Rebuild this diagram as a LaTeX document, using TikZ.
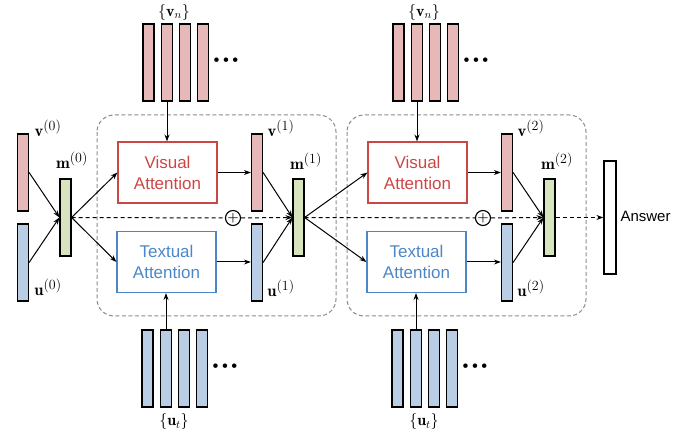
\RequirePackage{fix-cm}
\documentclass[tikz,border=0pt]{standalone}
\usepackage{fontspec}
\setsansfont{Liberation Sans}
\usetikzlibrary{arrows.meta}
\definecolor{vispink}{RGB}{230,184,183}
\definecolor{txtblue}{RGB}{185,205,228}
\definecolor{memgreen}{RGB}{215,228,189}
\definecolor{visred}{RGB}{205,70,70}
\definecolor{txtline}{RGB}{75,135,200}
\definecolor{grpgray}{RGB}{140,140,140}
\newcommand{\hoplabel}[2]{$\mathbf{#1}^{\mbox{\fontsize{14}{14}\selectfont(#2)}}$}

\begin{document}
\begin{tikzpicture}[x=1pt, y=-1pt,
    bar/.style={draw, line width=1.2pt, minimum width=11pt, minimum height=77pt, inner sep=0pt},
    vbar/.style={bar, fill=vispink},
    ubar/.style={bar, fill=txtblue},
    mbar/.style={bar, fill=memgreen},
    attn/.style={draw, line width=1.1pt, minimum width=99pt, minimum height=61pt, align=center,
        font=\fontsize{17}{21}\selectfont\sffamily},
    lbl/.style={font=\fontsize{16.5}{18}\selectfont},
    setlbl/.style={font=\fontsize{16}{18}\selectfont},
    dotsrow/.style={font=\fontsize{20}{20}\selectfont},
    arr/.style={-{Stealth[length=7pt,width=5pt]}, line width=1pt},
    flow/.style={arr, dash pattern=on 4pt off 3pt},
    group/.style={draw=grpgray, dash pattern=on 4pt off 2.5pt, line width=1pt, rounded corners=17pt},
    sumnode/.style={circle, draw, line width=1.1pt, fill=white, minimum size=15pt, inner sep=0pt,
        font=\fontsize{13}{13}\selectfont\bfseries}]
    \useasboundingbox (0,0) rectangle (689,438);

    % Hop groups
    \draw[group] (97,115) rectangle (336,316);
    \draw[group] (347,115) rectangle (586,316);

    % Initial memory
    \node[vbar] (v0) at (23,172.5) {};
    \node[ubar] (u0) at (23,262.5) {};
    \node[mbar] (m0) at (65.5,217.5) {};
    \node[lbl] (v0l) at (48,128) {\hoplabel{v}{0}};
    \node[lbl] (u0l) at (48,287) {\hoplabel{u}{0}};
    \node[lbl] (m0l) at (72,160) {\hoplabel{m}{0}};
    \draw[arr] (v0.east) -- (m0.west);
    \draw[arr] (u0.east) -- (m0.west);

    % Hop 1: image regions and words
    \node[vbar] (vn11) at (148.5,62.5) {};
    \node[vbar] (vn12) at (167,62.5) {};
    \node[vbar] (vn13) at (185,62.5) {};
    \node[vbar] (vn14) at (203,62.5) {};
    \node[dotsrow] (vd1) at (226,62) {\textbullet\kern-5pt\textbullet\kern-5pt\textbullet};
    \node[setlbl] (vn1l) at (174,12.5) {$\{\mathbf{v}_n\}$};
    \node[ubar] (ut11) at (147.5,368.5) {};
    \node[ubar] (ut12) at (166,368.5) {};
    \node[ubar] (ut13) at (184,368.5) {};
    \node[ubar] (ut14) at (202,368.5) {};
    \node[dotsrow] (ud1) at (225,368) {\textbullet\kern-5pt\textbullet\kern-5pt\textbullet};
    \node[setlbl] (ut1l) at (174,422) {$\{\mathbf{u}_t\}$};

    % Hop 1: attention and new memory
    \node[attn, draw=visred, text=visred] (vis1) at (167.5,172.5) {Visual\\Attention};
    \node[attn, draw=txtline, text=txtline] (txt1) at (166.5,262) {Textual\\Attention};
    \node[vbar] (v1) at (257,172.5) {};
    \node[ubar] (u1) at (257,262.5) {};
    \node[mbar] (m1) at (298.5,217.5) {};
    \node[sumnode] (sum1) at (233,218) {+};
    \node[lbl] (v1l) at (281,128) {\hoplabel{v}{1}};
    \node[lbl] (u1l) at (281,288) {\hoplabel{u}{1}};
    \node[lbl] (m1l) at (306,161) {\hoplabel{m}{1}};
    \draw[arr] (m0.east) -- (vis1.west);
    \draw[arr] (m0.east) -- (txt1.west);
    \draw[arr] (vn12.south) -- (vn12.south |- vis1.north);
    \draw[arr] (ut12.north) -- (ut12.north |- txt1.south);
    \draw[arr] (vis1.east) -- (vis1.east -| v1.west);
    \draw[arr] (txt1.east) -- (txt1.east -| u1.west);
    \draw[arr] (v1.east) -- (m1.west);
    \draw[arr] (u1.east) -- (m1.west);
    \draw[flow] (m0.east) -- (sum1) -- (m1.west);

    % Hop 2: image regions and words
    \node[vbar] (vn21) at (398.5,62.5) {};
    \node[vbar] (vn22) at (417,62.5) {};
    \node[vbar] (vn23) at (435,62.5) {};
    \node[vbar] (vn24) at (453,62.5) {};
    \node[dotsrow] (vd2) at (476,62) {\textbullet\kern-5pt\textbullet\kern-5pt\textbullet};
    \node[setlbl] (vn2l) at (424,12.5) {$\{\mathbf{v}_n\}$};
    \node[ubar] (ut21) at (397.5,368.5) {};
    \node[ubar] (ut22) at (416,368.5) {};
    \node[ubar] (ut23) at (434,368.5) {};
    \node[ubar] (ut24) at (452,368.5) {};
    \node[dotsrow] (ud2) at (475,368) {\textbullet\kern-5pt\textbullet\kern-5pt\textbullet};
    \node[setlbl] (ut2l) at (424,422) {$\{\mathbf{u}_t\}$};

    % Hop 2: attention and new memory
    \node[attn, draw=visred, text=visred] (vis2) at (417.5,172.5) {Visual\\Attention};
    \node[attn, draw=txtline, text=txtline] (txt2) at (416.5,262) {Textual\\Attention};
    \node[vbar] (v2) at (507,172.5) {};
    \node[ubar] (u2) at (507,262.5) {};
    \node[mbar] (m2) at (549.5,217.5) {};
    \node[sumnode] (sum2) at (483,218) {+};
    \node[lbl] (v2l) at (531,128) {\hoplabel{v}{2}};
    \node[lbl] (u2l) at (531,288) {\hoplabel{u}{2}};
    \node[lbl] (m2l) at (557,161) {\hoplabel{m}{2}};
    \draw[arr] (m1.east) -- (vis2.west);
    \draw[arr] (m1.east) -- (txt2.west);
    \draw[arr] (vn22.south) -- (vn22.south |- vis2.north);
    \draw[arr] (ut22.north) -- (ut22.north |- txt2.south);
    \draw[arr] (vis2.east) -- (vis2.east -| v2.west);
    \draw[arr] (txt2.east) -- (txt2.east -| u2.west);
    \draw[arr] (v2.east) -- (m2.west);
    \draw[arr] (u2.east) -- (m2.west);
    \draw[flow] (m1.east) -- (sum2) -- (m2.west);

    % Answer
    \node[bar, fill=white, minimum width=12pt, minimum height=113pt] (ans) at (610,217.5) {};
    \node[anchor=west, font=\fontsize{15}{18}\selectfont\sffamily] (ansl) at (617,216) {Answer};
    \draw[flow] (m2.east) -- (ans.west);
\end{tikzpicture}
\end{document}
